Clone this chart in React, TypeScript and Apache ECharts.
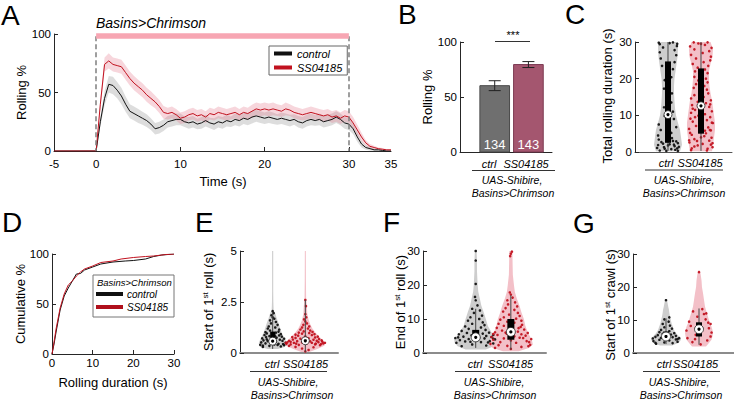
import React, { useEffect, useRef } from 'react';
import * as echarts from 'echarts';

const FONT = '"Liberation Sans", Arial, Helvetica, sans-serif';
const BLACK = '#111111';
const RED = '#c1121f';
const CTRL_VIOLIN = '#cdcdcd';
const EXP_VIOLIN = '#f3c0c8';

// ---------- Panel A : rolling % over time ----------
const timeA = [-5, 0, 0.5, 1, 1.5, 2, 2.5, 3, 3.5, 4, 4.5, 5, 5.5, 6, 6.5, 7, 7.5, 8, 8.5, 9, 9.5, 10, 10.5, 11, 11.5, 12, 12.5, 13, 13.5, 14, 14.5, 15, 15.5, 16, 16.5, 17, 17.5, 18, 18.5, 19, 19.5, 20, 20.5, 21, 21.5, 22, 22.5, 23, 23.5, 24, 24.5, 25, 25.5, 26, 26.5, 27, 27.5, 28, 28.5, 29, 29.5, 30, 30.5, 31, 31.5, 32, 32.5, 33, 33.5, 34, 34.5, 35];
const ctrlMeanA = [0, 0, 25, 45, 57, 56, 52, 47, 40, 34, 32, 30, 28, 26, 23, 19, 20, 22, 25, 26, 27, 27, 25, 24, 25, 23, 24, 26, 24, 23, 25, 24, 26, 25, 27, 26, 28, 27, 29, 30, 29, 28, 29, 28, 27, 28, 27, 26, 27, 25, 24, 26, 27, 26, 27, 25, 26, 27, 29, 27, 24, 23, 19, 12, 6, 3, 2, 1, 1, 0.5, 0, 0];
const ctrlSemA = [0, 0, 4, 6, 7, 7.5, 7, 7, 6.5, 6, 6, 6, 5.5, 5.5, 5, 5, 5, 5, 5, 5, 5, 5, 4.5, 5, 5, 4.5, 5, 5, 4.5, 5, 5, 5, 5, 4.5, 5, 5, 5, 5, 5.5, 5, 5, 5, 5, 5, 4.5, 5, 5, 5, 4.5, 5, 5, 5, 5, 4.5, 5, 5, 5, 5, 5, 5, 5, 5, 4.5, 4, 3, 2, 1.5, 1, 1, 0.5, 0.5, 0.5];
const expMeanA = [0, 0, 40, 74, 77, 74, 73, 72, 67, 62, 58, 55, 52, 48, 45, 42, 38, 33, 32, 33, 31, 28, 29, 31, 32, 30, 31, 29, 32, 31, 33, 32, 31, 32, 33, 31, 33, 32, 34, 36, 35, 36, 35, 36, 35, 34, 36, 35, 33, 32, 31, 32, 33, 32, 31, 30, 31, 29, 30, 28, 30, 29, 24, 18, 12, 7, 4, 3, 2, 1.5, 1, 1];
const expSemA = [0, 0, 4, 6, 6.5, 6, 6, 6, 6, 6, 6, 6, 6, 6, 6, 5.5, 5.5, 5.5, 5, 5, 5, 5, 5, 5, 5, 5, 5, 5, 5, 5, 5, 5, 5, 5, 5, 5, 5, 5, 5.5, 5.5, 5.5, 5.5, 5.5, 5.5, 5, 5, 5.5, 5, 5, 5, 5, 5, 5, 5, 5, 5, 5, 5, 5, 5, 5, 5, 5, 4.5, 3.5, 2.5, 2, 1.5, 1, 1, 0.5, 0.5];
const stimWindow = [0, 30];

// ---------- Panel B : rolling % bars ----------
const groupPos = [1, 2];
const groupNames = ['ctrl', 'SS04185'];
const rollPctB = [60.3, 79.5];
const rollErrB = [4.5, 2.7];
const nLarvaeB = [134, 143];

// ---------- Panel C : total rolling duration ----------
const cLevelsCtrl = [0.2, 2, 4, 6, 8, 10, 12, 14, 16, 18, 20, 22, 24, 26, 28, 30];
const cDensCtrl = [0.86, 1, 0.93, 0.86, 0.71, 0.57, 0.5, 0.46, 0.43, 0.43, 0.46, 0.54, 0.61, 0.68, 0.71, 0.71];
const cLevelsExp = [0.2, 2, 4, 6, 8, 10, 12, 14, 16, 18, 20, 22, 24, 26, 28, 30];
const cDensExp = [0.79, 0.86, 0.93, 1, 1, 0.93, 0.86, 0.79, 0.68, 0.61, 0.57, 0.57, 0.68, 0.82, 0.86, 0.68];
const cStatsCtrl = [0.3, 2.5, 10.2, 24.7, 30]; // lo, q1, median, q3, hi
const cStatsExp = [0.3, 5, 12.6, 22.8, 30];
const cPtsCtrl = [[-0.25, 0.4], [0.1, 0.8], [0.28, 1.0], [-0.12, 1.3], [0.2, 1.6], [-0.3, 1.9], [0.05, 2.1], [0.3, 2.4], [-0.2, 2.7], [0.15, 3.0], [-0.05, 0.3], [0.22, 0.6], [-0.33, 1.1], [0.33, 1.4], [0.0, 1.8], [-0.15, 2.3], [0.25, 2.9], [-0.28, 3.4], [0.12, 3.8], [0.3, 0.3], [-0.1, 0.9], [0.18, 2.0], [-0.3, 4.5], [0.1, 5.2], [-0.22, 6.0], [0.25, 6.8], [-0.28, 7.5], [0.05, 8.3], [0.18, 9.0], [-0.1, 9.8], [0.15, 11.0], [-0.12, 12.2], [0.1, 13.5], [-0.05, 14.8], [0.12, 16.0], [-0.12, 17.3], [0.05, 18.5], [-0.1, 19.6], [0.1, 20.4], [-0.05, 21.5], [0.15, 22.6], [-0.18, 23.5], [0.2, 24.5], [-0.22, 25.5], [0.25, 26.4], [-0.25, 27.2], [0.2, 27.8], [-0.15, 28.5], [0.27, 28.9], [-0.25, 29.4], [0.05, 29.7], [0.15, 29.9], [-0.28, 29.8], [0.28, 29.5]];
const cPtsExp = [[-0.3, 0.5], [0.2, 0.9], [0.35, 1.3], [-0.1, 1.8], [0.05, 2.2], [-0.35, 2.6], [0.25, 3.1], [-0.2, 3.5], [0.32, 3.9], [0.1, 4.3], [-0.28, 4.7], [0.15, 5.1], [-0.05, 5.5], [0.3, 5.9], [-0.36, 6.3], [0.22, 6.7], [-0.15, 7.1], [0.05, 7.5], [0.36, 7.9], [-0.25, 8.3], [0.18, 8.7], [-0.32, 9.1], [0.28, 9.5], [-0.08, 9.9], [0.12, 10.3], [-0.3, 10.7], [0.33, 11.1], [-0.18, 11.5], [0.02, 11.9], [0.25, 12.3], [-0.27, 12.8], [0.15, 13.3], [-0.1, 13.7], [0.3, 14.1], [-0.3, 14.6], [0.08, 15.0], [-0.2, 15.5], [0.22, 16.0], [-0.05, 16.5], [0.18, 17.0], [-0.22, 17.5], [0.1, 18.0], [-0.15, 18.5], [0.2, 19.0], [-0.08, 19.5], [0.15, 20.0], [-0.2, 20.5], [0.05, 21.0], [0.2, 21.5], [-0.18, 22.0], [0.12, 22.5], [-0.1, 23.0], [0.22, 23.5], [-0.25, 24.0], [0.08, 24.5], [0.28, 25.0], [-0.15, 25.5], [0.3, 26.0], [-0.3, 26.5], [0.05, 27.0], [0.25, 27.5], [-0.2, 28.0], [0.32, 28.4], [-0.33, 28.8], [0.12, 29.2], [-0.08, 29.6], [0.2, 29.9], [-0.22, 29.9], [0.0, 29.5], [-0.28, 1.0], [0.3, 2.0], [-0.12, 3.0], [0.0, 4.0], [-0.33, 5.2], [0.27, 6.0], [-0.05, 7.0], [0.33, 8.0], [-0.18, 9.5], [0.02, 10.8], [0.35, 2.4], [-0.36, 3.2], [0.18, 0.4], [-0.2, 1.5], [0.12, 5.8], [-0.25, 11.8], [0.28, 13.0]];

// ---------- Panel D : cumulative rolling duration ----------
const cdfTimeCtrl = [0, 0.5, 1, 2, 3, 4, 5, 6, 7, 8, 10, 12, 15, 18, 20, 23, 25, 27, 30];
const cdfCtrl = [0, 10, 22, 44, 58, 66, 73, 80, 80.5, 84, 87, 90, 92, 93, 93.5, 95, 97.5, 99, 100];
const cdfTimeExp = [0, 0.5, 1, 2, 3, 4, 5, 6, 7, 8, 10, 12, 15, 17, 20, 23, 25, 28, 30];
const cdfExp = [0, 12, 25, 46, 60, 69, 73, 78, 82, 85, 88, 91.5, 93, 95, 96.5, 97.5, 98, 99.5, 100];

// ---------- Panel E : start of 1st roll ----------
const eLevelsCtrl = [0.2, 0.3, 0.45, 0.6, 0.8, 1.0, 1.2, 1.45, 1.7, 1.95, 2.1, 2.5, 3, 4, 5];
const eDensCtrl = [0.36, 0.86, 1, 0.93, 0.79, 0.64, 0.54, 0.43, 0.29, 0.18, 0.07, 0.05, 0.04, 0.04, 0.04];
const eLevelsExp = [0.05, 0.2, 0.35, 0.5, 0.65, 0.8, 1.0, 1.2, 1.4, 1.6, 1.9, 2.3, 2.7, 3.5, 5];
const eDensExp = [0.2, 0.6, 0.95, 1, 0.85, 0.7, 0.5, 0.35, 0.25, 0.17, 0.1, 0.075, 0.04, 0.03, 0.025];
const eStatsCtrl = [0.2, 0.45, 0.58, 1.05, 2.0];
const eStatsExp = [0.05, 0.45, 0.6, 0.78, 2.6];
const ePtsCtrl = [[-0.3, 0.3], [0.25, 0.32], [-0.1, 0.35], [0.35, 0.38], [-0.38, 0.4], [0.05, 0.42], [0.18, 0.45], [-0.22, 0.47], [0.4, 0.5], [-0.35, 0.52], [0.1, 0.55], [-0.15, 0.58], [0.3, 0.6], [-0.28, 0.62], [0.22, 0.65], [-0.05, 0.68], [0.35, 0.7], [-0.32, 0.72], [0.12, 0.75], [-0.2, 0.78], [0.28, 0.8], [-0.1, 0.83], [0.2, 0.86], [-0.25, 0.88], [0.05, 0.9], [0.25, 0.93], [-0.18, 0.96], [0.1, 1.0], [-0.22, 1.02], [0.18, 1.05], [-0.08, 1.1], [0.2, 1.15], [-0.15, 1.2], [0.08, 1.25], [-0.12, 1.3], [0.15, 1.38], [-0.05, 1.45], [0.1, 1.52], [-0.08, 1.6], [0.05, 1.68], [0.0, 1.75], [-0.04, 1.85], [0.03, 1.95], [0.0, 2.05], [-0.3, 0.36], [0.32, 0.44], [-0.06, 0.5], [0.15, 0.4], [-0.18, 0.67], [0.08, 0.82]];
const ePtsExp = [[-0.5, 0.35], [0.45, 0.38], [-0.2, 0.4], [0.3, 0.42], [-0.58, 0.45], [0.55, 0.47], [0.05, 0.48], [-0.35, 0.5], [0.2, 0.5], [-0.1, 0.52], [0.4, 0.53], [-0.45, 0.55], [0.6, 0.5], [-0.6, 0.5], [0.15, 0.57], [-0.25, 0.58], [0.35, 0.6], [-0.5, 0.6], [0.5, 0.62], [-0.05, 0.63], [0.25, 0.65], [-0.38, 0.66], [0.42, 0.68], [-0.15, 0.7], [0.1, 0.72], [-0.3, 0.74], [0.3, 0.76], [-0.4, 0.78], [0.38, 0.8], [0.0, 0.82], [-0.22, 0.85], [0.2, 0.88], [-0.3, 0.9], [0.28, 0.92], [-0.1, 0.95], [0.12, 0.98], [-0.2, 1.0], [0.22, 1.03], [-0.05, 1.06], [0.15, 1.1], [-0.15, 1.15], [0.08, 1.2], [-0.1, 1.25], [0.12, 1.3], [-0.06, 1.38], [0.05, 1.45], [0.0, 1.55], [-0.04, 1.65], [0.03, 1.75], [0.0, 1.9], [0.02, 2.3], [0.0, 2.6], [-0.3, 0.3], [0.25, 0.28], [-0.1, 0.22], [0.1, 0.15], [0.0, 0.08], [-0.45, 0.42], [0.48, 0.44], [-0.55, 0.52], [0.52, 0.56], [0.32, 0.46], [-0.28, 0.46]];

// ---------- Panel F : end of 1st roll ----------
const fLevelsCtrl = [1, 2, 3, 4, 5, 6, 8, 10, 12, 14, 16, 18, 20, 24, 27, 30];
const fDensCtrl = [0.47, 0.84, 0.98, 1, 0.88, 0.74, 0.56, 0.47, 0.37, 0.26, 0.19, 0.12, 0.09, 0.06, 0.06, 0.04];
const fLevelsExp = [0.5, 1.5, 2.5, 4, 6, 8, 10, 12, 14, 16, 18, 20, 23, 26, 30];
const fDensExp = [0.36, 0.82, 1, 0.95, 0.77, 0.66, 0.59, 0.48, 0.39, 0.27, 0.18, 0.14, 0.09, 0.08, 0.07];
const fStatsCtrl = [1.5, 3.6, 4.6, 6.8, 13];
const fStatsExp = [1, 3.9, 6.2, 10, 17];
const fPtsCtrl = [[-0.4, 2.0], [0.3, 2.2], [-0.1, 2.5], [0.5, 2.8], [-0.55, 3.0], [0.15, 3.2], [-0.3, 3.4], [0.4, 3.5], [0.0, 3.7], [-0.45, 3.8], [0.55, 4.0], [-0.2, 4.1], [0.25, 4.3], [-0.58, 4.4], [0.1, 4.5], [0.45, 4.7], [-0.35, 4.8], [0.3, 5.0], [-0.12, 5.2], [0.5, 5.3], [-0.48, 5.5], [0.2, 5.7], [-0.25, 5.9], [0.38, 6.0], [-0.05, 6.3], [-0.4, 6.5], [0.28, 6.8], [-0.2, 7.1], [0.15, 7.5], [-0.3, 7.8], [0.25, 8.2], [-0.1, 8.6], [0.2, 9.0], [-0.22, 9.5], [0.1, 10.0], [-0.15, 10.5], [0.18, 11.0], [-0.05, 11.8], [0.12, 12.5], [-0.1, 13.0], [0.05, 14.0], [0.0, 15.5], [-0.02, 16.5], [0.0, 20.3], [0.0, 27.2], [0.0, 30.0], [0.35, 3.1], [-0.5, 4.6], [0.5, 4.2], [-0.15, 3.3]];
const fPtsExp = [[-0.45, 1.5], [0.3, 1.8], [-0.1, 2.1], [0.55, 2.4], [-0.58, 2.7], [0.15, 3.0], [-0.3, 3.2], [0.45, 3.5], [0.0, 3.7], [-0.5, 3.9], [0.58, 4.1], [-0.2, 4.3], [0.25, 4.5], [-0.55, 4.7], [0.1, 4.9], [0.42, 5.1], [-0.38, 5.3], [0.3, 5.5], [-0.12, 5.7], [0.48, 5.9], [-0.45, 6.1], [0.2, 6.3], [-0.25, 6.6], [0.38, 6.9], [-0.05, 7.1], [-0.4, 7.4], [0.28, 7.7], [-0.2, 8.0], [0.32, 8.3], [-0.35, 8.6], [0.1, 8.9], [-0.1, 9.2], [0.3, 9.5], [-0.3, 9.8], [0.15, 10.1], [-0.2, 10.5], [0.25, 10.9], [-0.05, 11.3], [0.2, 11.8], [-0.22, 12.2], [0.1, 12.7], [-0.15, 13.2], [0.18, 13.7], [-0.08, 14.3], [0.12, 14.9], [-0.1, 15.5], [0.05, 16.3], [0.0, 17.2], [-0.03, 17.8], [0.0, 29.2], [0.03, 29.8], [-0.02, 28.5], [0.5, 2.0], [-0.35, 2.3], [0.35, 4.4], [-0.5, 5.6], [0.52, 3.2], [-0.15, 6.0], [0.0, 1.2], [0.22, 7.3]];

// ---------- Panel G : start of 1st crawl ----------
const gLevelsCtrl = [2.3, 3, 4, 5, 6, 7, 8, 9, 10, 11, 12, 13, 14, 16];
const gDensCtrl = [0.4, 0.83, 1, 0.87, 0.67, 0.53, 0.45, 0.37, 0.32, 0.27, 0.23, 0.2, 0.15, 0.07];
const gLevelsExp = [2, 3, 4, 5, 6, 7, 8, 9, 10, 11, 12, 14, 16, 18, 20, 22, 24, 25];
const gDensExp = [0.5, 0.71, 0.89, 0.96, 1, 0.96, 0.89, 0.79, 0.71, 0.64, 0.57, 0.43, 0.36, 0.29, 0.21, 0.18, 0.11, 0.04];
const gStatsCtrl = [2.7, 4, 5, 6.5, 10.5];
const gStatsExp = [2.5, 5, 7.2, 9.3, 13.5];
const gPtsCtrl = [[-0.3, 2.8], [0.2, 3.0], [-0.05, 3.2], [0.35, 3.4], [-0.38, 3.6], [0.1, 3.8], [-0.2, 4.0], [0.3, 4.1], [0.0, 4.3], [-0.4, 4.4], [0.4, 4.5], [-0.15, 4.6], [0.2, 4.8], [-0.32, 4.9], [0.05, 5.0], [0.3, 5.2], [-0.25, 5.4], [0.15, 5.6], [-0.1, 5.8], [0.25, 6.0], [-0.2, 6.3], [0.1, 6.6], [-0.15, 7.0], [0.18, 7.4], [-0.05, 7.8], [0.12, 8.3], [-0.1, 8.8], [0.08, 9.5], [-0.05, 10.2], [0.1, 10.8], [0.0, 16.0], [0.35, 4.2], [-0.32, 3.1]];
const gPtsExp = [[0.05, 2.6], [-0.2, 3.3], [0.25, 3.8], [-0.35, 4.5], [0.35, 5.0], [-0.1, 5.5], [0.38, 6.2], [-0.38, 6.8], [0.3, 7.5], [-0.25, 8.2], [0.35, 8.8], [-0.3, 9.5], [0.2, 10.2], [-0.05, 11.0], [0.15, 11.8], [-0.18, 12.6], [0.1, 13.3], [0.22, 12.0], [0.28, 9.2], [-0.12, 4.2], [0.0, 24.5]];

// ---------- helpers ----------
const axisLineStyle = (color = '#262626', width = 1) => ({ show: true, onZero: false, lineStyle: { color, width } });
const tickLabel = (margin: number) => ({ color: '#000', fontSize: 11.5, fontFamily: FONT, margin });

function yAx(gi: number, min: number, max: number, interval: number) {
  return {
    type: 'value', gridIndex: gi, min, max, interval,
    axisLine: axisLineStyle(),
    axisTick: { show: true, inside: true, length: 4, lineStyle: { color: '#262626' } },
    axisLabel: tickLabel(3),
    splitLine: { show: false },
  };
}
function xPlain(gi: number, min: number, max: number, color = '#262626', width = 1) {
  return {
    type: 'value', gridIndex: gi, min, max,
    axisLine: axisLineStyle(color, width),
    axisTick: { show: false }, axisLabel: { show: false }, splitLine: { show: false },
  };
}

function bandSeries(gi: number, xs: number[], mean: number[], sem: number[], fill: string) {
  return {
    type: 'custom', xAxisIndex: gi, yAxisIndex: gi, silent: true, z: 1,
    data: [[xs[0], 0]],
    renderItem: (_p: any, api: any) => {
      const up: number[][] = [];
      const lo: number[][] = [];
      for (let i = 0; i < xs.length; i++) {
        up.push(api.coord([xs[i], mean[i] + sem[i]]));
        lo.unshift(api.coord([xs[i], Math.max(0, mean[i] - sem[i])]));
      }
      return { type: 'polygon', shape: { points: up.concat(lo) }, style: { fill } };
    },
  };
}

function violinSeries(gi: number, center: number, levels: number[], dens: number[], halfMax: number, fill: string) {
  return {
    type: 'custom', xAxisIndex: gi, yAxisIndex: gi, silent: true, z: 1,
    data: [[center, levels[0]]],
    renderItem: (_p: any, api: any) => {
      const right: number[][] = [];
      const left: number[][] = [];
      for (let i = 0; i < levels.length; i++) {
        const p = api.coord([center, levels[i]]);
        const w = dens[i] * halfMax;
        right.push([p[0] + w, p[1]]);
        left.unshift([p[0] - w, p[1]]);
      }
      return { type: 'polygon', shape: { points: right.concat(left) }, style: { fill } };
    },
  };
}

function boxSeries(gi: number, center: number, stats: number[], boxW: number, r: number) {
  return {
    type: 'custom', xAxisIndex: gi, yAxisIndex: gi, silent: true, z: 4,
    data: [[center, stats[2]]],
    renderItem: (_p: any, api: any) => {
      const lo = api.coord([center, stats[0]]);
      const q1 = api.coord([center, stats[1]]);
      const md = api.coord([center, stats[2]]);
      const q3 = api.coord([center, stats[3]]);
      const hi = api.coord([center, stats[4]]);
      return {
        type: 'group',
        children: [
          { type: 'line', shape: { x1: lo[0], y1: lo[1], x2: hi[0], y2: hi[1] }, style: { stroke: '#444', lineWidth: 1 } },
          { type: 'rect', shape: { x: q1[0] - boxW / 2, y: q3[1], width: boxW, height: q1[1] - q3[1] }, style: { fill: '#000' } },
          { type: 'circle', shape: { cx: md[0], cy: md[1], r }, style: { fill: '#fff', stroke: '#222', lineWidth: 0.8 } },
          { type: 'circle', shape: { cx: md[0], cy: md[1], r: 1.6 }, style: { fill: '#000' } },
        ],
      };
    },
  };
}

function pointsSeries(gi: number, center: number, pts: number[][], color: string) {
  return {
    type: 'scatter', xAxisIndex: gi, yAxisIndex: gi, silent: true, z: 3,
    symbol: 'circle', symbolSize: 2.6,
    itemStyle: { color, opacity: 0.95 },
    data: pts.map(([dx, v]) => [center + dx, v]),
  };
}

function txt(text: string, x: number, y: number, o: any = {}) {
  return {
    type: 'text', x, y, rotation: o.rot || 0, silent: true, z: 100,
    style: {
      text, fill: '#000', fontSize: o.size || 10.5, fontFamily: FONT,
      fontStyle: o.italic ? 'italic' : 'normal', fontWeight: o.weight || 'normal',
      align: o.align || 'center', verticalAlign: 'middle', rich: o.rich,
    },
  };
}
function hline(x1: number, x2: number, y: number, stroke = '#333', lineWidth = 1) {
  return { type: 'line', silent: true, z: 100, shape: { x1, y1: y, x2, y2: y }, style: { stroke, lineWidth } };
}
function groupLabels(ctrlX: number, expX: number, y: number, lx1: number, lx2: number, ly: number, ux: number, uy: number, bx: number, by: number) {
  return [
    txt(groupNames[0], ctrlX, y, { italic: true, size: 11 }),
    txt(groupNames[1], expX, y, { italic: true, size: 11 }),
    hline(lx1, lx2, ly, '#333', 1),
    txt('UAS-Shibire,', ux, uy, { italic: true }),
    txt('Basins>Chrimson', bx, by, { italic: true }),
  ];
}
const supRich = {
  a: { fontSize: 13, fontFamily: FONT, fill: '#000' },
  s: { fontSize: 8, fontFamily: FONT, fill: '#000', verticalAlign: 'top' },
};

function buildOption() {
  const grids = [
    { left: 54, top: 34, width: 337, height: 117 }, // A
    { left: 460, top: 42, width: 92, height: 110 }, // B
    { left: 635, top: 42, width: 97, height: 110 }, // C
    { left: 52, top: 254, width: 122, height: 100 }, // D
    { left: 240, top: 251, width: 98, height: 102 }, // E
    { left: 423, top: 251, width: 123, height: 102 }, // F
    { left: 633, top: 254, width: 101, height: 99 }, // G
  ].map((g) => ({ ...g, containLabel: false, outerBoundsMode: 'none' }));

  const xAxis: any[] = [
    {
      type: 'value', gridIndex: 0, min: -5, max: 35,
      axisLine: axisLineStyle(),
      axisTick: { show: true, inside: true, length: 4, customValues: [10, 20, 30], lineStyle: { color: '#262626' } },
      axisLabel: { ...tickLabel(7), customValues: [-5, 0, 10, 20, 30, 35] },
      splitLine: { show: false },
    },
    xPlain(1, -0.03, 2.7),
    xPlain(2, 0, 2.94, '#555'),
    {
      type: 'value', gridIndex: 3, min: 0, max: 30, interval: 10,
      axisLine: axisLineStyle(),
      axisTick: { show: true, inside: true, length: 4, lineStyle: { color: '#262626' } },
      axisLabel: tickLabel(3),
      splitLine: { show: false },
    },
    xPlain(4, 0, 3, '#8c8c8c', 2),
    xPlain(5, -0.5, 3, '#8c8c8c', 2),
    xPlain(6, 0, 3.06, '#8c8c8c', 2),
  ];
  const yAxis: any[] = [
    yAx(0, 0, 100, 50), yAx(1, 0, 100, 50), yAx(2, 0, 30, 10), yAx(3, 0, 100, 50),
    yAx(4, 0, 5, 2.5), yAx(5, 0, 30, 10), yAx(6, 0, 30, 10),
  ];

  const series: any[] = [
    // A
    bandSeries(0, timeA, ctrlMeanA, ctrlSemA, 'rgba(150,150,150,0.32)'),
    bandSeries(0, timeA, expMeanA, expSemA, 'rgba(230,120,140,0.3)'),
    {
      type: 'line', name: 'control', xAxisIndex: 0, yAxisIndex: 0, z: 2, color: BLACK,
      showSymbol: false, symbol: 'none', lineStyle: { color: BLACK, width: 1 }, itemStyle: { color: BLACK },
      data: timeA.map((t, i) => [t, ctrlMeanA[i]]),
      markLine: {
        silent: true, symbol: ['none', 'none'], label: { show: false },
        lineStyle: { color: '#7f7f7f', width: 1.5, type: [5, 3] },
        data: stimWindow.map((t) => [{ coord: [t, 98] }, { coord: [t, 0] }]),
      },
    },
    {
      type: 'line', name: 'SS04185', xAxisIndex: 0, yAxisIndex: 0, z: 3, color: RED,
      showSymbol: false, symbol: 'none', lineStyle: { color: RED, width: 1 }, itemStyle: { color: RED },
      data: timeA.map((t, i) => [t, expMeanA[i]]),
      markLine: {
        silent: true, symbol: ['none', 'none'], label: { show: false },
        lineStyle: { color: '#f7a6b3', width: 5.5, type: 'solid' },
        data: [[{ coord: [stimWindow[0], 98.8] }, { coord: [stimWindow[1], 98.8] }]],
      },
    },
    // B
    {
      type: 'custom', xAxisIndex: 1, yAxisIndex: 1, silent: true, z: 2,
      data: rollPctB.map((m, i) => [groupPos[i], m, rollErrB[i], i]),
      renderItem: (_p: any, api: any) => {
        const x = api.value(0), m = api.value(1), e = api.value(2), i = api.value(3);
        const bl = api.coord([x - 0.44, 0]);
        const tr = api.coord([x + 0.44, m]);
        const eTop = api.coord([x, m + e]);
        const eBot = api.coord([x, m - e]);
        const fills = ['#6f6f6f', '#a4566f'];
        const strokes = ['#4a4a4a', '#7c3a52'];
        return {
          type: 'group',
          children: [
            { type: 'rect', shape: { x: bl[0], y: tr[1], width: tr[0] - bl[0], height: bl[1] - tr[1] }, style: { fill: fills[i], stroke: strokes[i], lineWidth: 1 } },
            { type: 'line', shape: { x1: eTop[0], y1: eTop[1], x2: eBot[0], y2: eBot[1] }, style: { stroke: '#222', lineWidth: 1 } },
            { type: 'line', shape: { x1: eTop[0] - 6, y1: eTop[1], x2: eTop[0] + 6, y2: eTop[1] }, style: { stroke: '#222', lineWidth: 1 } },
            { type: 'line', shape: { x1: eBot[0] - 6, y1: eBot[1], x2: eBot[0] + 6, y2: eBot[1] }, style: { stroke: '#222', lineWidth: 1 } },
            { type: 'text', x: (bl[0] + tr[0]) / 2, y: bl[1] - 8, style: { text: String(nLarvaeB[i]), fill: '#fff', fontSize: 13, fontFamily: FONT, align: 'center', verticalAlign: 'middle' } },
          ],
        };
      },
    },
    // C
    violinSeries(2, groupPos[0], cLevelsCtrl, cDensCtrl, 14, CTRL_VIOLIN),
    violinSeries(2, groupPos[1], cLevelsExp, cDensExp, 14, EXP_VIOLIN),
    pointsSeries(2, groupPos[0], cPtsCtrl, BLACK),
    pointsSeries(2, groupPos[1], cPtsExp, RED),
    boxSeries(2, groupPos[0], cStatsCtrl, 6, 4),
    boxSeries(2, groupPos[1], cStatsExp, 6, 4),
    // D
    {
      type: 'line', name: 'control', xAxisIndex: 3, yAxisIndex: 3, color: BLACK, showSymbol: false, symbol: 'none',
      lineStyle: { color: BLACK, width: 1 }, data: cdfTimeCtrl.map((t, i) => [t, cdfCtrl[i]]),
    },
    {
      type: 'line', name: 'SS04185', xAxisIndex: 3, yAxisIndex: 3, color: RED, showSymbol: false, symbol: 'none',
      lineStyle: { color: RED, width: 1 }, data: cdfTimeExp.map((t, i) => [t, cdfExp[i]]),
    },
    // E
    violinSeries(4, groupPos[0], eLevelsCtrl, eDensCtrl, 14, CTRL_VIOLIN),
    violinSeries(4, groupPos[1], eLevelsExp, eDensExp, 20, EXP_VIOLIN),
    pointsSeries(4, groupPos[0], ePtsCtrl, BLACK),
    pointsSeries(4, groupPos[1], ePtsExp, RED),
    boxSeries(4, groupPos[0], eStatsCtrl, 5, 4),
    boxSeries(4, groupPos[1], eStatsExp, 5, 4),
    // F
    violinSeries(5, groupPos[0], fLevelsCtrl, fDensCtrl, 21.5, CTRL_VIOLIN),
    violinSeries(5, groupPos[1], fLevelsExp, fDensExp, 22, EXP_VIOLIN),
    pointsSeries(5, groupPos[0], fPtsCtrl, BLACK),
    pointsSeries(5, groupPos[1], fPtsExp, RED),
    boxSeries(5, groupPos[0], fStatsCtrl, 7, 4.5),
    boxSeries(5, groupPos[1], fStatsExp, 7, 4.5),
    // G
    violinSeries(6, groupPos[0], gLevelsCtrl, gDensCtrl, 15, CTRL_VIOLIN),
    violinSeries(6, groupPos[1], gLevelsExp, gDensExp, 14, EXP_VIOLIN),
    pointsSeries(6, groupPos[0], gPtsCtrl, BLACK),
    pointsSeries(6, groupPos[1], gPtsExp, RED),
    boxSeries(6, groupPos[0], gStatsCtrl, 6, 4.5),
    boxSeries(6, groupPos[1], gStatsExp, 6, 4.5),
  ];

  const graphic: any[] = [
    // panel letters
    txt('A', 1, 15, { size: 28, align: 'left' }),
    txt('B', 398, 14, { size: 28, align: 'left' }),
    txt('C', 565, 14, { size: 28, align: 'left' }),
    txt('D', 2, 222, { size: 28, align: 'left' }),
    txt('E', 195, 222, { size: 28, align: 'left' }),
    txt('F', 383, 222, { size: 28, align: 'left' }),
    txt('G', 573, 223, { size: 28, align: 'left' }),
    // A
    txt('Basins>Chrimson', 96, 23, { size: 14, italic: true, align: 'left' }),
    txt('Rolling %', 21, 92.5, { size: 13, rot: Math.PI / 2 }),
    txt('Time (s)', 223, 181, { size: 13 }),
    // B
    txt('Rolling %', 427, 97, { size: 13, rot: Math.PI / 2 }),
    txt('***', 513, 35, { size: 11 }),
    hline(495, 530, 41.5, '#333', 1),
    ...groupLabels(489, 526, 164, 472, 555, 170.5, 512, 180, 513, 193),
    // C
    txt('Total rolling duration (s)', 607, 96, { size: 13, rot: Math.PI / 2 }),
    ...groupLabels(666, 700, 163, 645, 723, 170, 684, 180, 684, 193),
    // D
    txt('Cumulative %', 20, 304, { size: 13, rot: Math.PI / 2 }),
    txt('Rolling duration (s)', 113, 382, { size: 13 }),
    { type: 'rect', silent: true, z: 99, shape: { x: 93, y: 275, width: 81, height: 42 }, style: { fill: '#fff', stroke: '#777', lineWidth: 1 } },
    txt('Basins>Chrimson', 97, 282, { size: 9.5, italic: true, align: 'left' }),
    hline(96, 123, 294, BLACK, 4),
    txt('control', 127, 294, { size: 10, italic: true, align: 'left' }),
    hline(96, 123, 307, '#b0101c', 4),
    txt('SS04185', 127, 307, { size: 10, italic: true, align: 'left' }),
    // E
    txt('{a|Start of 1}{s|st}{a| roll (s)}', 208, 302, { size: 13, rot: Math.PI / 2, rich: supRich }),
    ...groupLabels(272, 305.5, 364, 250, 327, 371.5, 288, 382, 292, 395),
    // F
    txt('{a|End of 1}{s|st}{a| roll (s)}', 400, 302, { size: 13, rot: Math.PI / 2, rich: supRich }),
    ...groupLabels(475, 510.5, 364, 455, 532, 371.5, 494, 382, 495, 395),
    // G
    txt('{a|Start of 1}{s|st}{a| crawl (s)}', 610, 305, { size: 13, rot: Math.PI / 2, rich: supRich }),
    ...groupLabels(664, 695.5, 364, 643, 720, 371.5, 679, 382, 681, 395),
  ];

  return {
    animation: false,
    backgroundColor: '#ffffff',
    textStyle: { fontFamily: FONT },
    grid: grids,
    xAxis,
    yAxis,
    legend: {
      show: true, data: ['control', 'SS04185'], orient: 'vertical', left: 269, top: 46,
      itemWidth: 18, itemHeight: 4, itemGap: 3, icon: 'rect', selectedMode: false,
      padding: [2, 5, 2, 5], borderColor: '#666', borderWidth: 1, backgroundColor: '#fff',
      textStyle: { fontSize: 11, fontStyle: 'italic', fontFamily: FONT, color: '#000' },
    },
    series,
    graphic,
  };
}

export default function App() {
  const ref = useRef<HTMLDivElement>(null);
  useEffect(() => {
    if (!ref.current) return;
    const chart = echarts.init(ref.current, null, { renderer: 'svg', width: 734, height: 401 });
    chart.setOption(buildOption() as any);
    return () => chart.dispose();
  }, []);
  return (
    <div
      ref={ref}
      style={{ position: 'fixed', left: 0, top: 0, width: 734, height: 401, background: '#fff' }}
    />
  );
}
